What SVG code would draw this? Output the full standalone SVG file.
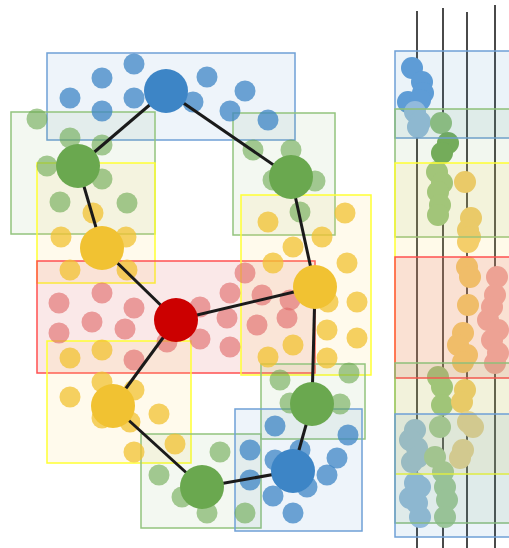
<svg xmlns="http://www.w3.org/2000/svg" width="509" height="548" viewBox="0 0 509 548">
<style>
.rb{fill:#3d85c6;fill-opacity:.09;stroke:#6fa0d6;stroke-width:1.5}
.rg{fill:#6aa84f;fill-opacity:.08;stroke:#93c47d;stroke-width:1.5}
.ry{fill:#ffd966;fill-opacity:.12;stroke:#ffff33;stroke-width:1.5}
.rr{fill:#e06666;fill-opacity:.15;stroke:#ff5050;stroke-width:1.5}
.tb{fill:#3d85c6;fill-opacity:.1;stroke:#6fa0d6;stroke-width:1.5}
.tg{fill:#6aa84f;fill-opacity:.09;stroke:#8fc07a;stroke-width:1.5}
.ty{fill:#ffd966;fill-opacity:.14;stroke:#ffff33;stroke-width:1.5}
.tr{fill:#e06666;fill-opacity:.16;stroke:#ff5050;stroke-width:1.5}
.db circle{fill:#3d85c6;fill-opacity:.75}
.dg circle{fill:#6aa84f;fill-opacity:.6}
.dy circle{fill:#f1c232;fill-opacity:.75}
.dr circle{fill:#e06666;fill-opacity:.6}
.ob circle{fill:#629fd8}
.obp circle{fill:#9cc0e0}
.og circle{fill:#97c582}
.ogp circle{fill:#a9cd99}
.ogd circle{fill:#74ad5c}
.oy circle{fill:#f3cc6c}
.oyp circle{fill:#eed697}
.or circle{fill:#eea8a8}
.edge{stroke:#1a1a1a;stroke-width:3;fill:none}
.vl{stroke:#4a4a4a;stroke-width:2}
</style>
<defs><filter id="s" x="-20%" y="-20%" width="140%" height="140%"><feGaussianBlur stdDeviation="0.6"/></filter></defs>
<g id="regions">
<rect class="rb" x="47" y="53" width="248" height="87"/>
<rect class="rg" x="11" y="112" width="144" height="122"/>
<rect class="rg" x="233" y="113" width="102" height="122"/>
<rect class="ry" x="37" y="163" width="118" height="120"/>
<rect class="rr" x="37" y="261" width="278" height="112"/>
<rect class="ry" x="241" y="195" width="130" height="180"/>
<rect class="ry" x="47" y="341" width="144" height="122"/>
<rect class="rg" x="261" y="364" width="104" height="75"/>
<rect class="rg" x="141" y="434" width="120" height="94"/>
<rect class="rb" x="235" y="409" width="127" height="122"/>
</g>
<g id="dots" filter="url(#s)">
<g class="db">
<circle cx="134" cy="64" r="10.5"/><circle cx="102" cy="78" r="10.5"/><circle cx="70" cy="98" r="10.5"/><circle cx="134" cy="98" r="10.5"/><circle cx="102" cy="111" r="10.5"/><circle cx="207" cy="77" r="10.5"/><circle cx="245" cy="91" r="10.5"/><circle cx="230" cy="111" r="10.5"/><circle cx="193" cy="102" r="10.5"/><circle cx="268" cy="120" r="10.5"/>
<circle cx="275" cy="426" r="10.5"/><circle cx="348" cy="435" r="10.5"/><circle cx="300" cy="450" r="10.5"/><circle cx="337" cy="458" r="10.5"/><circle cx="327" cy="475" r="10.5"/><circle cx="275" cy="460" r="10.5"/><circle cx="307" cy="487" r="10.5"/><circle cx="273" cy="496" r="10.5"/><circle cx="293" cy="513" r="10.5"/><circle cx="250" cy="450" r="10.5"/><circle cx="250" cy="480" r="10.5"/>
</g>
<g class="dg">
<circle cx="37" cy="119" r="10.5"/><circle cx="70" cy="138" r="10.5"/><circle cx="102" cy="145" r="10.5"/><circle cx="47" cy="166" r="10.5"/><circle cx="102" cy="179" r="10.5"/><circle cx="60" cy="202" r="10.5"/><circle cx="127" cy="203" r="10.5"/>
<circle cx="253" cy="150" r="10.5"/><circle cx="291" cy="150" r="10.5"/><circle cx="315" cy="181" r="10.5"/><circle cx="300" cy="212" r="10.5"/><circle cx="273" cy="180" r="10.5"/>
<circle cx="280" cy="380" r="10.5"/><circle cx="349" cy="373" r="10.5"/><circle cx="290" cy="403" r="10.5"/><circle cx="340" cy="404" r="10.5"/>
<circle cx="159" cy="475" r="10.5"/><circle cx="220" cy="452" r="10.5"/><circle cx="182" cy="497" r="10.5"/><circle cx="207" cy="513" r="10.5"/><circle cx="245" cy="513" r="10.5"/>
</g>
<g class="dy">
<circle cx="93" cy="213" r="10.5"/><circle cx="61" cy="237" r="10.5"/><circle cx="126" cy="237" r="10.5"/><circle cx="70" cy="270" r="10.5"/><circle cx="127" cy="270" r="10.5"/>
<circle cx="345" cy="213" r="10.5"/><circle cx="268" cy="222" r="10.5"/><circle cx="322" cy="237" r="10.5"/><circle cx="293" cy="247" r="10.5"/><circle cx="347" cy="263" r="10.5"/><circle cx="273" cy="263" r="10.5"/><circle cx="357" cy="302" r="10.5"/><circle cx="328" cy="302" r="10.5"/><circle cx="327" cy="330" r="10.5"/><circle cx="357" cy="338" r="10.5"/><circle cx="293" cy="345" r="10.5"/><circle cx="327" cy="358" r="10.5"/><circle cx="268" cy="357" r="10.5"/>
<circle cx="70" cy="358" r="10.5"/><circle cx="102" cy="350" r="10.5"/>
<circle cx="102" cy="382" r="10.5"/><circle cx="134" cy="390" r="10.5"/><circle cx="70" cy="397" r="10.5"/><circle cx="102" cy="418" r="10.5"/><circle cx="130" cy="422" r="10.5"/><circle cx="159" cy="414" r="10.5"/><circle cx="175" cy="444" r="10.5"/><circle cx="134" cy="452" r="10.5"/>
</g>
<g class="dr">
<circle cx="59" cy="303" r="10.5"/><circle cx="102" cy="293" r="10.5"/><circle cx="134" cy="308" r="10.5"/><circle cx="92" cy="322" r="10.5"/><circle cx="125" cy="329" r="10.5"/><circle cx="59" cy="333" r="10.5"/><circle cx="245" cy="273" r="10.5"/><circle cx="230" cy="293" r="10.5"/><circle cx="200" cy="307" r="10.5"/><circle cx="227" cy="318" r="10.5"/><circle cx="200" cy="339" r="10.5"/><circle cx="230" cy="347" r="10.5"/><circle cx="167" cy="342" r="10.5"/><circle cx="262" cy="295" r="10.5"/><circle cx="290" cy="300" r="10.5"/><circle cx="257" cy="325" r="10.5"/><circle cx="287" cy="318" r="10.5"/><circle cx="134" cy="360" r="10.5"/>
</g>
</g>
<g id="connectors">
<line class="edge" x1="166" y1="91" x2="78" y2="166"/>
<line class="edge" x1="166" y1="91" x2="291" y2="177"/>
<line class="edge" x1="78" y1="166" x2="102" y2="248"/>
<line class="edge" x1="102" y1="248" x2="176" y2="320"/>
<line class="edge" x1="176" y1="320" x2="315" y2="287"/>
<line class="edge" x1="176" y1="320" x2="113" y2="406"/>
<line class="edge" x1="113" y1="406" x2="202" y2="487"/>
<line class="edge" x1="202" y1="487" x2="293" y2="471"/>
<line class="edge" x1="293" y1="471" x2="312" y2="404"/>
<line class="edge" x1="312" y1="404" x2="315" y2="287"/>
<line class="edge" x1="291" y1="177" x2="315" y2="287"/>
</g>
<g id="n-blue-top"><circle cx="166" cy="91" r="22" fill="#3d85c6"/></g>
<g id="n-green-left"><circle cx="78" cy="166" r="22" fill="#6aa84f"/></g>
<g id="n-green-right"><circle cx="291" cy="177" r="22" fill="#6aa84f"/></g>
<g id="n-yellow-left"><circle cx="102" cy="248" r="22" fill="#f1c232"/></g>
<g id="n-red"><circle cx="176" cy="320" r="22" fill="#cc0000"/></g>
<g id="n-yellow-right"><circle cx="315" cy="287" r="22" fill="#f1c232"/></g>
<g id="n-yellow-bottom"><circle cx="113" cy="406" r="22" fill="#f1c232"/></g>
<g id="n-green-bottom"><circle cx="202" cy="487" r="22" fill="#6aa84f"/></g>
<g id="n-green-mid"><circle cx="312" cy="404" r="22" fill="#6aa84f"/></g>
<g id="n-blue-bottom"><circle cx="293" cy="471" r="22" fill="#3d85c6"/></g>
<g id="timeline">
<line class="vl" x1="417" y1="11" x2="417" y2="548"/>
<line class="vl" x1="443" y1="8" x2="443" y2="548"/>
<line class="vl" x1="467" y1="12" x2="467" y2="548"/>
<line class="vl" x1="495" y1="5" x2="495" y2="548"/>
<g filter="url(#s)">
<g class="ob">
<circle cx="412" cy="68" r="11"/><circle cx="422" cy="82" r="11"/><circle cx="423" cy="93" r="11"/><circle cx="408" cy="102" r="11"/><circle cx="420" cy="100" r="11"/>
</g>
<g class="obp">
<circle cx="415" cy="112" r="11"/><circle cx="420" cy="122" r="11"/><circle cx="418" cy="127" r="11"/>
<circle cx="415" cy="430" r="11"/><circle cx="410" cy="440" r="11"/><circle cx="417" cy="448" r="11"/><circle cx="412" cy="462" r="11"/><circle cx="418" cy="457" r="11"/><circle cx="415" cy="483" r="11"/><circle cx="420" cy="487" r="11"/><circle cx="410" cy="498" r="11"/><circle cx="417" cy="503" r="11"/><circle cx="420" cy="517" r="11"/>
</g>
<g class="og">
<circle cx="441" cy="123" r="11"/><circle cx="437" cy="172" r="11"/><circle cx="442" cy="183" r="11"/><circle cx="438" cy="192" r="11"/><circle cx="440" cy="205" r="11"/><circle cx="438" cy="215" r="11"/>
<circle cx="438" cy="377" r="11"/><circle cx="442" cy="387" r="11"/><circle cx="442" cy="405" r="11"/>
</g>
<g class="ogp">
<circle cx="440" cy="427" r="11"/><circle cx="435" cy="457" r="11"/><circle cx="443" cy="472" r="11"/><circle cx="445" cy="487" r="11"/><circle cx="447" cy="500" r="11"/><circle cx="445" cy="517" r="11"/>
</g>
<g class="ogd">
<circle cx="448" cy="143" r="11"/><circle cx="442" cy="153" r="11"/>
</g>
<g class="oy">
<circle cx="465" cy="182" r="11"/><circle cx="471" cy="218" r="11"/><circle cx="468" cy="230" r="11"/><circle cx="470" cy="237" r="11"/><circle cx="468" cy="242" r="11"/><circle cx="467" cy="267" r="11"/><circle cx="470" cy="277" r="11"/><circle cx="468" cy="305" r="11"/><circle cx="463" cy="333" r="11"/><circle cx="458" cy="345" r="11"/><circle cx="467" cy="355" r="11"/><circle cx="463" cy="362" r="11"/>
<circle cx="465" cy="390" r="11"/><circle cx="462" cy="402" r="11"/>
</g>
<g class="oyp">
<circle cx="468" cy="422" r="11"/><circle cx="473" cy="427" r="11"/><circle cx="463" cy="450" r="11"/><circle cx="460" cy="458" r="11"/>
</g>
<g class="or">
<circle cx="497" cy="277" r="11"/><circle cx="495" cy="295" r="11"/><circle cx="492" cy="307" r="11"/><circle cx="488" cy="320" r="11"/><circle cx="498" cy="330" r="11"/><circle cx="492" cy="340" r="11"/><circle cx="498" cy="353" r="11"/><circle cx="495" cy="363" r="11"/>
</g>
</g>
<rect class="tb" x="395" y="51" width="120" height="87"/>
<rect class="tg" x="395" y="109" width="120" height="128"/>
<rect class="ty" x="395" y="163" width="120" height="311"/>
<rect class="tr" x="395" y="257" width="120" height="121"/>
<rect class="tg" x="395" y="363" width="120" height="160"/>
<rect class="tb" x="395" y="414" width="120" height="123"/>
</g>
</svg>
